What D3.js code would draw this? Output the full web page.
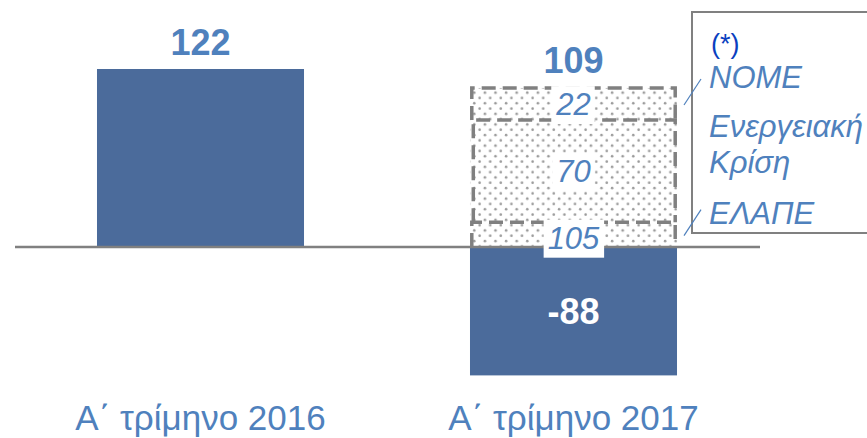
<!DOCTYPE html>
<html lang="el">
<head>
<meta charset="UTF-8">
<title>Α΄ τρίμηνο 2016 - 2017</title>
<script src="https://cdn.jsdelivr.net/npm/d3@7"></script>
<style>
	body { margin: 0; background: #fff; }
	text { font-family: "Liberation Sans", Arial, sans-serif; }
</style>
</head>
<body>
<div id="chart"></div>
<script>
// δεδομένα
var categories = ["Α΄ τρίμηνο 2016", "Α΄ τρίμηνο 2017"];
var results = [122, -88];                      // αποτέλεσμα κάθε τριμήνου
var adjNames = ["ΕΛΑΠΕ", "Ενεργειακή Κρίση", "NOME"];  // (*) προσαρμογές, από κάτω προς τα πάνω
var adjValues = [105, 70, 22];
var legendLines = ["(*)", "NOME", "Ενεργειακή", "Κρίση", "ΕΛΑΠΕ"];

var W = 867, H = 438;
var barColor = "#4b6b9b", txtColor = "#4f81bd", grey = "#808080";

var svg = d3.select("#chart").append("svg")
	.attr("width", W).attr("height", H);

// μοτίβο με τελείες
var pat = svg.append("defs").append("pattern")
	.attr("id", "dots").attr("patternUnits", "userSpaceOnUse")
	.attr("width", 10.6).attr("height", 10.6);
pat.append("rect").attr("width", 10.6).attr("height", 10.6).attr("fill", "#fff");
pat.append("circle").attr("cx", 2.6).attr("cy", 2.6).attr("r", 1.3).attr("fill", "#9a9a9a");
pat.append("circle").attr("cx", 7.9).attr("cy", 7.9).attr("r", 1.3).attr("fill", "#9a9a9a");

var x = d3.scaleBand()
	.domain(categories)
	.range([14, 760])
	.paddingInner(0.445)
	.paddingOuter(0.2225);

var y = d3.scaleLinear()
	.domain([0, 122])
	.range([247, 69]);

// σωρευτικά τμήματα γέφυρας πάνω από το -88
var start = results[1];
var segs = adjValues.map(function(v, i) {
	var s = {name: adjNames[i], value: v, lo: start, hi: start + v};
	start += v;
	return s;
});
var total = start;   // 109

var bx = x(categories[1]), bw = x.bandwidth();
function segTop(d) { return y(d.hi); }
function segBot(d) { return y(Math.max(d.lo, 0)); }

// τμήματα με τελείες (το κάτω μέρος κρύβεται από τη στήλη -88)
svg.selectAll("rect.seg").data(segs).enter().append("rect")
	.attr("class", "seg")
	.attr("x", bx)
	.attr("y", segTop)
	.attr("width", bw)
	.attr("height", function(d) { return segBot(d) - segTop(d); })
	.attr("fill", "url(#dots)");

// διακεκομμένα περιγράμματα: αριστερά, πάνω, δεξιά
svg.selectAll("path.seg").data(segs).enter().append("path")
	.attr("class", "seg")
	.attr("d", function(d, i) {
		var l = bx + 1.8 + (i === 1 ? 1.5 : 0), r = bx + bw - 1.8;
		return "M" + l + "," + segBot(d) + "V" + segTop(d) + "H" + r + "V" + segBot(d);
	})
	.attr("fill", "none")
	.attr("stroke", grey)
	.attr("stroke-width", 3.5)
	.attr("stroke-dasharray", "14,7");

// στήλες αποτελέσματος
svg.selectAll("rect.bar").data(results).enter().append("rect")
	.attr("class", "bar")
	.attr("x", function(d, i) { return x(categories[i]); })
	.attr("y", function(d) { return y(Math.max(0, d)); })
	.attr("width", bw)
	.attr("height", function(d) { return Math.abs(y(d) - y(0)); })
	.attr("fill", barColor);

// άξονας
svg.append("line")
	.attr("x1", 15).attr("x2", 760)
	.attr("y1", y(0)).attr("y2", y(0))
	.attr("stroke", grey).attr("stroke-width", 2.5);

// ετικέτες τμημάτων με λευκό φόντο
var fs = 31;
segs.forEach(function(d) {
	var cy = (segBot(d) + segTop(d)) / 2 + (d.lo < 0 ? 3 : 0);
	var g = svg.append("g");
	var t = g.append("text")
		.attr("x", bx + bw / 2)
		.attr("y", cy + fs * 0.358)
		.attr("text-anchor", "middle")
		.attr("font-size", fs)
		.attr("font-style", "italic")
		.attr("fill", txtColor)
		.text(d.value);
	var bb = t.node().getBBox();
	g.insert("rect", "text")
		.attr("x", bb.x - 4).attr("y", bb.y - 1)
		.attr("width", bb.width + 8).attr("height", bb.height + 3)
		.attr("fill", "#fff");
});

// τιμές στηλών
svg.append("text")
	.attr("x", x(categories[0]) + bw / 2).attr("y", 55)
	.attr("text-anchor", "middle").attr("font-size", 36).attr("font-weight", "bold")
	.attr("fill", txtColor).text(results[0]);
svg.append("text")
	.attr("x", bx + bw / 2).attr("y", y(total) - 15)
	.attr("text-anchor", "middle").attr("font-size", 36).attr("font-weight", "bold")
	.attr("fill", txtColor).text(total);
svg.append("text")
	.attr("x", bx + bw / 2).attr("y", (y(0) + y(results[1])) / 2 + 13)
	.attr("text-anchor", "middle").attr("font-size", 36).attr("font-weight", "bold")
	.attr("fill", "#fff").text(results[1]);

// κατηγορίες
svg.selectAll("text.cat").data(categories).enter().append("text")
	.attr("class", "cat")
	.attr("x", function(d) { return x(d) + bw / 2; })
	.attr("y", 430)
	.attr("text-anchor", "middle")
	.attr("font-size", 35)
	.attr("fill", txtColor)
	.text(function(d) { return d; });

// υπόμνημα
svg.append("rect")
	.attr("x", 692).attr("y", 12).attr("width", 200).attr("height", 221)
	.attr("fill", "none").attr("stroke", grey).attr("stroke-width", 2);
var legY = [53, 88, 137, 173, 224];
svg.selectAll("text.leg").data(legendLines).enter().append("text")
	.attr("class", "leg")
	.attr("x", function(d, i) { return i === 0 ? 711 : 709; })
	.attr("y", function(d, i) { return legY[i]; })
	.attr("font-size", function(d, i) { return i === 0 ? 27 : 31; })
	.attr("font-style", function(d, i) { return i === 0 ? "normal" : "italic"; })
	.attr("fill", function(d, i) { return i === 0 ? "#0b3fc0" : txtColor; })
	.text(function(d) { return d; });

// γραμμές σύνδεσης
var leaders = [segs[2], segs[0]];
svg.selectAll("line.lead").data(leaders).enter().append("line")
	.attr("class", "lead")
	.attr("x1", bx + bw + 7)
	.attr("y1", function(d) { return (segBot(d) + segTop(d)) / 2 + 1; })
	.attr("x2", bx + bw + 24)
	.attr("y2", function(d) { return (segBot(d) + segTop(d)) / 2 - 25; })
	.attr("stroke", txtColor).attr("stroke-width", 1.2);
</script>
</body>
</html>
